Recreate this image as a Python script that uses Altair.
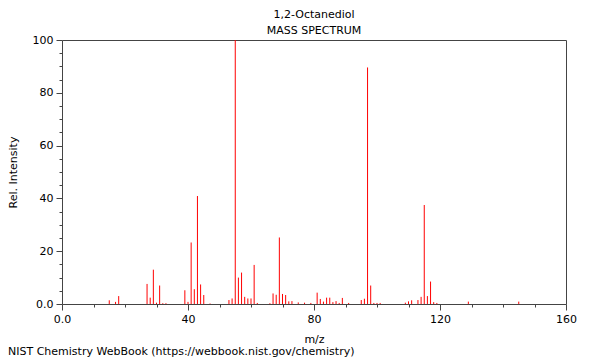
import altair as alt
import pandas as pd

# m/z values and relative intensities
mz = [15, 17, 18, 27, 28, 29, 30, 31, 32, 33, 39, 40, 41, 42, 43, 44, 45, 47,
      53, 54, 55, 56, 57, 58, 59, 60, 61, 62, 66, 67, 68, 69, 70, 71, 72, 73,
      75, 77, 79, 81, 82, 83, 84, 85, 86, 87, 88, 89, 91, 95, 96, 97, 98, 99,
      100, 101, 109, 110, 111, 113, 114, 115, 116, 117, 118, 119, 129, 145]
intensity = [1.4, 0.8, 3.0, 7.6, 2.4, 13.0, 0.5, 7.0, 0.3, 0.3, 5.2, 0.8, 23.3, 5.6, 40.9, 7.4, 3.4, 0.2,
             1.5, 2.1, 100.0, 10.0, 11.9, 2.7, 2.1, 2.1, 14.8, 0.4, 0.3, 4.0, 3.5, 25.2, 3.8, 3.4, 1.0, 1.1,
             0.6, 0.5, 0.4, 4.3, 1.9, 0.9, 2.4, 2.4, 0.7, 1.1, 0.4, 2.3, 0.4, 1.5, 2.0, 89.6, 7.0, 0.4,
             0.4, 0.4, 0.5, 1.0, 1.4, 1.5, 2.7, 37.5, 3.0, 8.5, 0.7, 0.4, 0.9, 0.9]

title_text = "1,2-Octanediol"
subtitle_text = "MASS SPECTRUM"
x_title = "m/z"
y_title = "Rel. Intensity"
footer_text = ["NIST Chemistry WebBook (https://webbook.nist.gov/chemistry)"]
x_ticks = list(range(0, 161, 10))
y_ticks = list(range(0, 101, 5))

FONT = "DejaVu Sans"
AXIS_COLOR = "#444444"

df = pd.DataFrame({"mz": mz, "rel": intensity})

x_axis = alt.Axis(
    values=x_ticks,
    title=x_title,
    labelExpr="datum.value == 0 ? '0.0' : (datum.value % 40 == 0 ? datum.label : '')",
    tickSize={"condition": {"test": "datum.value % 40 == 0", "value": 6}, "value": 3},
    labelFlush=False,
    labelOverlap=False,
    grid=False,
    domain=False,
    tickColor=AXIS_COLOR,
    labelFont=FONT,
    labelFontSize=11,
    labelColor="black",
    labelPadding=3,
    titleFont=FONT,
    titleFontSize=11,
    titleFontWeight="normal",
    titleColor="black",
    titlePadding=9,
)

y_axis = alt.Axis(
    values=y_ticks,
    title=y_title,
    labelExpr="datum.value == 0 ? '0.0' : (datum.value % 20 == 0 ? datum.label : '')",
    tickSize={"condition": {"test": "datum.value % 20 == 0", "value": 6}, "value": 3},
    labelFlush=False,
    labelOverlap=False,
    grid=False,
    domain=False,
    tickColor=AXIS_COLOR,
    labelFont=FONT,
    labelFontSize=11,
    labelColor="black",
    labelPadding=3,
    titleFont=FONT,
    titleFontSize=11,
    titleFontWeight="normal",
    titleColor="black",
    titlePadding=14,
)

bars = alt.Chart(df).mark_rule(color="#ff0000", strokeWidth=1).encode(
    x=alt.X("mz:Q", scale=alt.Scale(domain=[0, 160], nice=False, zero=False), axis=x_axis),
    y=alt.Y("rel:Q", scale=alt.Scale(domain=[0, 100], nice=False), axis=y_axis),
    y2=alt.datum(0),
)

footer = alt.Chart(pd.DataFrame({"t": footer_text})).mark_text(
    align="left", baseline="middle", font=FONT, fontSize=11, color="black"
).encode(
    x=alt.value(-54),
    y=alt.value(312),
    text="t:N",
)

chart = alt.layer(bars, footer).properties(
    width=504,
    height=264,
    autosize=alt.AutoSizeParams(type="none"),
    padding={"left": 54, "top": 32, "right": 26, "bottom": 56},
    title=alt.TitleParams(
        text=title_text,
        subtitle=subtitle_text,
        anchor="middle",
        font=FONT,
        fontSize=11,
        fontWeight="normal",
        color="black",
        subtitleFont=FONT,
        subtitleFontSize=11,
        subtitleColor="black",
        subtitlePadding=5,
        offset=-2,
    ),
).configure_view(stroke=AXIS_COLOR, strokeWidth=1)

chart.save("out.html", embed_options={"renderer": "svg", "actions": False})
